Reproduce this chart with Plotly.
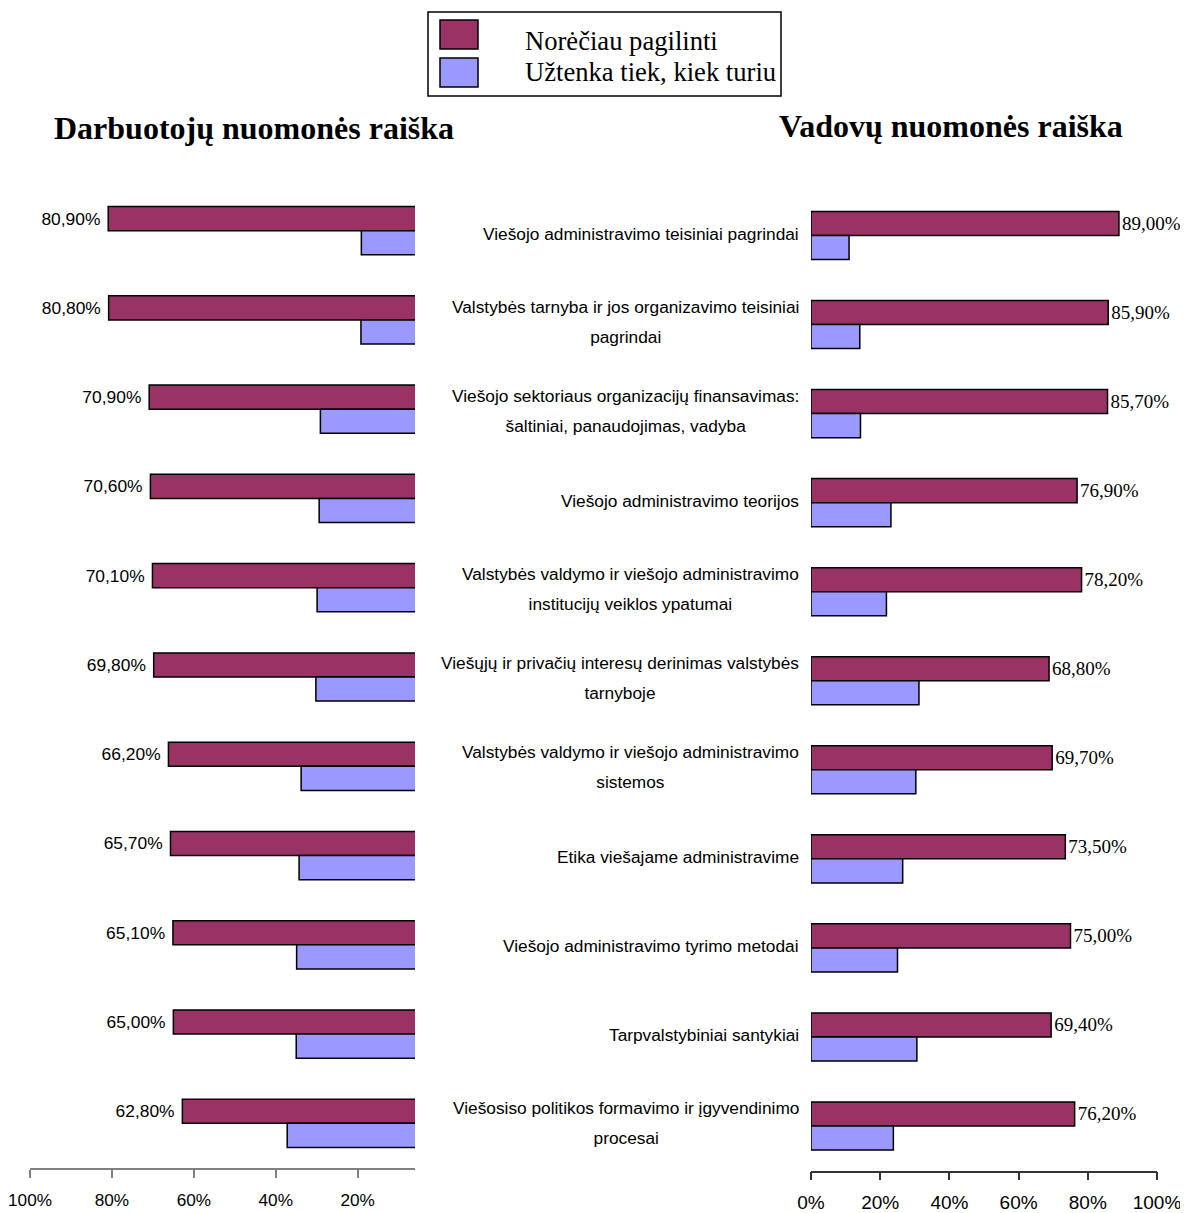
import plotly.graph_objects as go

# ---------------- data ----------------
categories = [
    "Viešojo administravimo teisiniai pagrindai",
    "Valstybės tarnyba ir jos organizavimo teisiniai\npagrindai",
    "Viešojo sektoriaus organizacijų finansavimas:\nšaltiniai, panaudojimas, vadyba",
    "Viešojo administravimo teorijos",
    "Valstybės valdymo ir viešojo administravimo\ninstitucijų veiklos ypatumai",
    "Viešųjų ir privačių interesų derinimas valstybės\ntarnyboje",
    "Valstybės valdymo ir viešojo administravimo\nsistemos",
    "Etika viešajame administravime",
    "Viešojo administravimo tyrimo metodai",
    "Tarpvalstybiniai santykiai",
    "Viešosiso politikos formavimo ir įgyvendinimo\nprocesai",
]
series_names = ["Norėčiau pagilinti", "Užtenka tiek, kiek turiu"]

employees_more = [80.9, 80.8, 70.9, 70.6, 70.1, 69.8, 66.2, 65.7, 65.1, 65.0, 62.8]
employees_enough = [19.1, 19.2, 29.1, 29.4, 29.9, 30.2, 33.8, 34.3, 34.9, 35.0, 37.2]
managers_more = [89.0, 85.9, 85.7, 76.9, 78.2, 68.8, 69.7, 73.5, 75.0, 69.4, 76.2]
managers_enough = [11.0, 14.1, 14.3, 23.1, 21.8, 31.2, 30.3, 26.5, 25.0, 30.6, 23.8]

left_tickvals = [100, 80, 60, 40, 20]
left_ticktext = ["100%", "80%", "60%", "40%", "20%"]
right_tickvals = [0, 20, 40, 60, 80, 100]
right_ticktext = ["0%", "20%", "40%", "60%", "80%", "100%"]

title_left = "Darbuotojų nuomonės raiška"
title_right = "Vadovų nuomonės raiška"

# ---------------- style ----------------
OFF = 8                      # page body margin
FW, FH = 1188 - OFF, 1213 - OFF
PURPLE = "#993366"
BLUE = "#9999FF"
SANS = "Liberation Sans, Arial, sans-serif"
SERIF = "Liberation Serif, Times New Roman, serif"
NBSP = "\u00a0"


def px(x):
    return (x - OFF) / FW


def py(y):
    return 1 - (y - OFF) / FH


ykeys = list(range(len(categories)))
fig = go.Figure()

common = dict(orientation="h", marker_line_color="black", marker_line_width=1.5,
              constraintext="none", showlegend=False)

fig.add_trace(go.Bar(x=employees_more, y=ykeys, name=series_names[0], marker_color=PURPLE,
                     xaxis="x", yaxis="y", texttemplate="%{x:.2f}%" + NBSP, textposition="outside",
                     textfont=dict(family=SANS, size=17.4, color="black"), **common))
fig.add_trace(go.Bar(x=employees_enough, y=ykeys, name=series_names[1], marker_color=BLUE,
                     xaxis="x", yaxis="y", **common))
fig.add_trace(go.Bar(x=managers_more, y=ykeys, name=series_names[0], marker_color=PURPLE,
                     xaxis="x2", yaxis="y2", texttemplate="%{x:.2f}%", textposition="outside",
                     textfont=dict(family=SERIF, size=19, color="black"), cliponaxis=False,
                     **common))
fig.add_trace(go.Bar(x=managers_enough, y=ykeys, name=series_names[1], marker_color=BLUE,
                     xaxis="x2", yaxis="y2", **common))

# category labels (centered multi-line, right-aligned block)
for k, cat in zip(ykeys, categories):
    lines = cat.split("\n")
    txt = "<br>".join(f"<span style='font-size:17.3px'>{ln}</span>" for ln in lines)
    fig.add_annotation(x=0, xref="x2 domain", y=k, yref="y2", text=txt, showarrow=False,
                       xanchor="right", yanchor="middle", align="center", xshift=-10,
                       yshift=2 + (len(lines) - 1),
                       font=dict(family=SANS, size=23, color="black"))

# titles
fig.add_annotation(x=px(254), y=py(128), xref="paper", yref="paper", text=f"<b>{title_left}</b>",
                   showarrow=False, xanchor="center", yanchor="middle",
                   font=dict(family=SERIF, size=32, color="black"))
fig.add_annotation(x=px(951), y=py(126), xref="paper", yref="paper", text=f"<b>{title_right}</b>",
                   showarrow=False, xanchor="center", yanchor="middle",
                   font=dict(family=SERIF, size=32, color="black"))

# legend (box, swatches, labels)
fig.add_shape(type="rect", xref="paper", yref="paper", x0=px(428), x1=px(781), y0=py(96), y1=py(12),
              line=dict(color="black", width=1.5), fillcolor="white")
for i, (col, name) in enumerate(zip([PURPLE, BLUE], series_names)):
    top = [20, 58][i]
    fig.add_shape(type="rect", xref="paper", yref="paper", x0=px(440), x1=px(478),
                  y0=py(top + 29), y1=py(top), line=dict(color="black", width=1.5), fillcolor=col)
    fig.add_annotation(x=px(523), y=py([41, 72][i]), xref="paper", yref="paper", text=name,
                       showarrow=False, xanchor="left", yanchor="middle",
                       font=dict(family=SERIF, size=26.6, color="black"))

fig.update_layout(
    template="none",
    width=FW, height=FH, margin=dict(l=0, r=0, t=0, b=0, pad=0), autosize=False,
    paper_bgcolor="white", plot_bgcolor="white",
    barmode="group", bargap=0.46, bargroupgap=0,
    separators=", ",
    xaxis=dict(domain=[px(30), px(415)], range=[100, 6], tickmode="array",
               tickvals=left_tickvals, ticktext=left_ticktext, ticklabeloverflow="allow",
               showline=True, linecolor="#808080", linewidth=2, ticks="outside", ticklen=8,
               tickcolor="#808080", tickwidth=1.5, showgrid=False, zeroline=False,
               tickfont=dict(family=SANS, size=17.2, color="black"), ticklabelstandoff=7,
               anchor="y", automargin=False),
    yaxis=dict(domain=[py(1168), py(186)], autorange="reversed", showticklabels=False,
               showgrid=False, zeroline=False, ticks="", anchor="x", automargin=False),
    xaxis2=dict(domain=[px(811), px(1157)], range=[0, 100], tickmode="array",
                tickvals=right_tickvals, ticktext=right_ticktext, ticklabeloverflow="allow",
                showline=True, linecolor="#333333", linewidth=1.5, ticks="outside", ticklen=8,
                tickcolor="#333333", tickwidth=1.5, showgrid=False, zeroline=False,
                tickfont=dict(family=SANS, size=19, color="black"), ticklabelstandoff=6,
                anchor="y2", automargin=False),
    yaxis2=dict(domain=[py(1170.5), py(191)], autorange="reversed", showticklabels=False,
                showgrid=False, zeroline=False, ticks="", anchor="x2", automargin=False),
)

fig.write_html("out.html")
